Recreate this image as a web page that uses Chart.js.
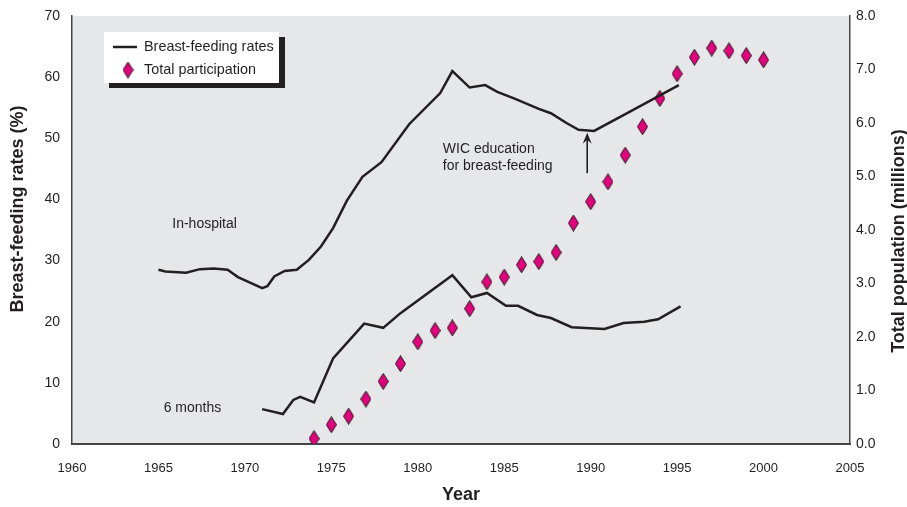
<!DOCTYPE html>
<html>
<head>
<meta charset="utf-8">
<script src="https://cdn.jsdelivr.net/npm/chart.js@4.4.1/dist/chart.umd.min.js"></script>
<style>
html, body { margin: 0; padding: 0; background: #fff; }
</style>
</head>
<body>
<canvas id="grafico" width="907" height="507"></canvas>
<script>
// dados
const anosHospital = [1965.0, 1965.4, 1966.6, 1967.4, 1968.2, 1969.0, 1969.6, 1971.0, 1971.3, 1971.7, 1972.3, 1973.0,
    1973.7, 1974.4, 1975.1, 1975.9, 1976.8, 1977.9, 1979.5, 1981.3, 1982.0, 1983.0, 1983.9, 1984.6, 1985.6,
    1987.0, 1987.7, 1988.6, 1989.3, 1990.2, 1992.3, 1995.1];
const taxaHospital = [28.5, 28.2, 28.0, 28.6, 28.7, 28.5, 27.3, 25.5, 25.8, 27.4, 28.3, 28.5,
    30.1, 32.3, 35.3, 39.8, 43.7, 46.1, 52.3, 57.4, 61.0, 58.3, 58.7, 57.6, 56.5,
    54.8, 54.1, 52.5, 51.4, 51.2, 54.4, 58.7];

const anos6Meses = [1971.0, 1972.2, 1972.8, 1973.2, 1974.0, 1975.1, 1976.9, 1978.0, 1979.0, 1982.0, 1983.1,
    1984.0, 1985.1, 1985.8, 1986.9, 1987.7, 1988.9, 1990.8, 1991.9, 1993.1, 1993.9, 1995.2];
const taxa6Meses = [5.7, 4.9, 7.2, 7.7, 6.8, 14.0, 19.7, 19.0, 21.4, 27.6, 24.0,
    24.7, 22.6, 22.6, 21.1, 20.6, 19.1, 18.8, 19.8, 20.0, 20.4, 22.5];

const anosParticipacao = [1974, 1975, 1976, 1977, 1978, 1979, 1980, 1981, 1982, 1983, 1984, 1985, 1986, 1987,
    1988, 1989, 1990, 1991, 1992, 1993, 1994, 1995, 1996, 1997, 1998, 1999, 2000];
const participacao = [0.1, 0.36, 0.52, 0.84, 1.17, 1.50, 1.91, 2.12, 2.17, 2.53, 3.03, 3.12, 3.35, 3.41,
    3.58, 4.13, 4.53, 4.90, 5.40, 5.93, 6.46, 6.92, 7.23, 7.40, 7.35, 7.26, 7.18];

const FONTE = "'Liberation Sans', Arial, sans-serif";
const COR_TEXTO = '#231f20';
const COR_LINHA = '#231f20';
const COR_LOSANGO = '#e6007e';

Chart.defaults.font.family = FONTE;
Chart.defaults.color = COR_TEXTO;

// losango alongado usado como ponto
function criaLosango() {
    const c = document.createElement('canvas');
    c.width = 11;
    c.height = 17;
    const g = c.getContext('2d');
    g.beginPath();
    g.moveTo(5.5, 0.5);
    g.lineTo(10.5, 8.5);
    g.lineTo(5.5, 16.5);
    g.lineTo(0.5, 8.5);
    g.closePath();
    g.fillStyle = COR_LOSANGO;
    g.fill();
    g.strokeStyle = '#1a1a1a';
    g.lineWidth = 1;
    g.stroke();
    return c;
}
const losango = criaLosango();

const pares = (xs, ys) => xs.map((x, i) => ({ x: x, y: ys[i] }));

// fundo cinza, títulos dos eixos, anotações e legenda
const extras = {
    id: 'extras',
    beforeDraw(chart) {
        const { ctx, chartArea: a } = chart;
        ctx.save();
        ctx.fillStyle = '#e6e7e8';
        ctx.fillRect(a.left, a.top, a.right - a.left, a.bottom - a.top);
        ctx.restore();
    },
    afterDatasetsDraw(chart) {
        const { ctx } = chart;
        const x = chart.scales.x;
        const y = chart.scales.y;
        ctx.save();
        ctx.fillStyle = COR_TEXTO;
        ctx.font = '14px ' + FONTE;
        ctx.textAlign = 'left';
        ctx.textBaseline = 'middle';
        ctx.fillText('In-hospital', x.getPixelForValue(1965.8), y.getPixelForValue(36.0));
        ctx.fillText('6 months', x.getPixelForValue(1965.3), y.getPixelForValue(5.9));
        ctx.fillText('WIC education', x.getPixelForValue(1981.45), y.getPixelForValue(48.2));
        ctx.fillText('for breast-feeding', x.getPixelForValue(1981.45), y.getPixelForValue(45.4));

        // seta
        const ax = x.getPixelForValue(1989.8);
        const y0 = y.getPixelForValue(44.3);
        const y1 = y.getPixelForValue(50.9);
        ctx.strokeStyle = COR_LINHA;
        ctx.lineWidth = 1.6;
        ctx.beginPath();
        ctx.moveTo(ax, y0);
        ctx.lineTo(ax, y1 + 5);
        ctx.stroke();
        ctx.beginPath();
        ctx.moveTo(ax, y1);
        ctx.lineTo(ax - 4.5, y1 + 11);
        ctx.lineTo(ax, y1 + 7);
        ctx.lineTo(ax + 4.5, y1 + 11);
        ctx.closePath();
        ctx.fillStyle = COR_LINHA;
        ctx.fill();

        // títulos dos eixos verticais
        ctx.fillStyle = COR_TEXTO;
        ctx.font = 'bold 18px ' + FONTE;
        ctx.textAlign = 'center';
        ctx.save();
        ctx.translate(18, 209);
        ctx.rotate(-Math.PI / 2);
        ctx.fillText('Breast-feeding rates (%)', 0, 0);
        ctx.restore();
        ctx.save();
        ctx.translate(899, 241);
        ctx.rotate(-Math.PI / 2);
        ctx.fillText('Total population (millions)', 0, 0);
        ctx.restore();

        // legenda
        ctx.fillStyle = '#231f20';
        ctx.fillRect(109, 37, 176, 51);
        ctx.fillStyle = '#ffffff';
        ctx.fillRect(104, 32, 175, 51);
        ctx.strokeStyle = COR_LINHA;
        ctx.lineWidth = 2.5;
        ctx.beginPath();
        ctx.moveTo(113, 47);
        ctx.lineTo(137, 47);
        ctx.stroke();
        ctx.drawImage(losango, 128 - 5.5, 70 - 8.5);
        ctx.fillStyle = COR_TEXTO;
        ctx.font = '14.4px ' + FONTE;
        ctx.textAlign = 'left';
        ctx.fillText(chart.data.datasets[0].label, 144, 47);
        ctx.fillText(chart.data.datasets[2].label, 144, 70);
        ctx.restore();
    }
};

// largura fixa dos eixos verticais, sem folga extra em cima
function eixoVertical(largura) {
    return (s) => {
        s.width = largura;
        s.paddingTop = 0;
        s.paddingBottom = 0;
    };
}

const ctxGrafico = document.getElementById('grafico').getContext('2d');
const grafico = new Chart(ctxGrafico, {
    type: 'scatter',
    data: {
        datasets: [
            {
                label: 'Breast-feeding rates',
                data: pares(anosHospital, taxaHospital),
                showLine: true,
                borderColor: COR_LINHA,
                borderWidth: 2.5,
                pointRadius: 0,
                yAxisID: 'y'
            },
            {
                label: 'Breast-feeding rates (6 months)',
                data: pares(anos6Meses, taxa6Meses),
                showLine: true,
                borderColor: COR_LINHA,
                borderWidth: 2.5,
                pointRadius: 0,
                yAxisID: 'y'
            },
            {
                label: 'Total participation',
                data: pares(anosParticipacao, participacao),
                showLine: false,
                pointStyle: losango,
                pointRadius: 6,
                yAxisID: 'y1'
            }
        ]
    },
    options: {
        responsive: false,
        animation: false,
        layout: { padding: { top: 16, left: 0, right: 0, bottom: 0 } },
        plugins: {
            legend: { display: false },
            tooltip: { enabled: false }
        },
        scales: {
            x: {
                type: 'linear',
                min: 1960,
                max: 2005,
                afterFit: (s) => { s.height = 63; },
                ticks: {
                    stepSize: 5,
                    padding: 17,
                    font: { size: 13 },
                    callback: (v) => String(v)
                },
                grid: { display: false, drawTicks: false },
                border: { color: '#444', width: 2 },
                title: {
                    display: true,
                    text: 'Year',
                    font: { size: 18, weight: 'bold' },
                    padding: { top: 0, bottom: 1 }
                }
            },
            y: {
                position: 'left',
                min: 0,
                max: 70,
                afterFit: eixoVertical(72),
                ticks: { stepSize: 10, padding: 12, font: { size: 14 } },
                grid: { display: false, drawTicks: false },
                border: { color: '#444', width: 1.5 }
            },
            y1: {
                position: 'right',
                min: 0,
                max: 8,
                afterFit: eixoVertical(57),
                ticks: { stepSize: 1, padding: 6, font: { size: 14 }, callback: (v) => v.toFixed(1) },
                grid: { display: false, drawTicks: false },
                border: { color: '#444', width: 1.5 }
            }
        }
    },
    plugins: [extras]
});
</script>
</body>
</html>
